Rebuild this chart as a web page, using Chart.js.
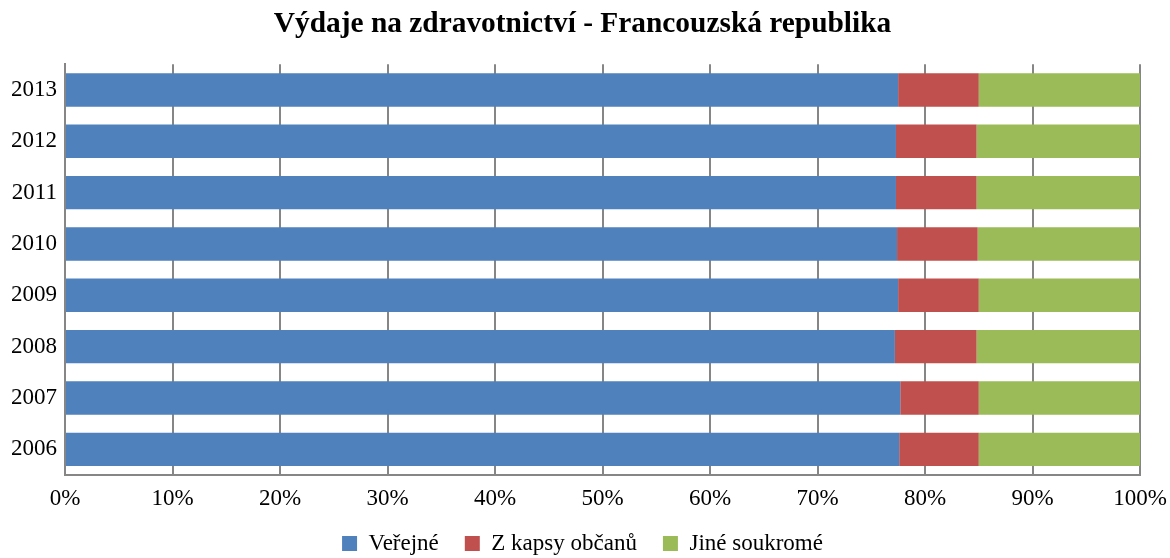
<!DOCTYPE html>
<html>
<head>
<meta charset="utf-8">
<script src="https://cdn.jsdelivr.net/npm/chart.js@4.4.1/dist/chart.umd.min.js"></script>
<style>
  html, body { margin: 0; padding: 0; background: #ffffff; }
  #wrap { width: 1170px; height: 558px; }
</style>
</head>
<body>
<div id="wrap"><canvas id="c" width="1170" height="558"></canvas></div>
<script>
const years = ['2013', '2012', '2011', '2010', '2009', '2008', '2007', '2006'];
const verejne = [77.5, 77.3, 77.3, 77.4, 77.5, 77.2, 77.7, 77.6];
const zKapsy = [7.5, 7.5, 7.5, 7.5, 7.5, 7.6, 7.3, 7.4];
const jineSoukrome = [15.0, 15.2, 15.2, 15.1, 15.0, 15.2, 15.0, 15.0];
const seriesNames = ['Veřejné', 'Z kapsy občanů', 'Jiné soukromé'];
const xTicks = [0, 10, 20, 30, 40, 50, 60, 70, 80, 90, 100];

const FONT = "'Liberation Serif', 'Times New Roman', serif";
const GRID = '#868686';

new Chart(document.getElementById('c'), {
  type: 'bar',
  data: {
    labels: years,
    datasets: [
      { label: seriesNames[0], data: verejne, backgroundColor: '#4F81BD' },
      { label: seriesNames[1], data: zKapsy, backgroundColor: '#C0504D' },
      { label: seriesNames[2], data: jineSoukrome, backgroundColor: '#9BBB59' }
    ]
  },
  options: {
    indexAxis: 'y',
    responsive: false,
    animation: false,
    devicePixelRatio: 1,
    layout: { padding: { left: 0, right: 5, top: 0, bottom: -7 } },
    datasets: { bar: { categoryPercentage: 1, barPercentage: 0.65, borderWidth: 0 } },
    scales: {
      x: {
        stacked: true,
        min: 0,
        max: 100,
        afterBuildTicks: (s) => { s.ticks = xTicks.map(v => ({ value: v })); },
        afterFit: (s) => { s.height = 31; s.paddingRight = 30; s.paddingLeft = 0; },
        grid: { color: GRID, lineWidth: 2, drawTicks: false },
        border: { color: GRID, width: 2 },
        ticks: {
          color: '#000',
          font: { family: FONT, size: 23 },
          padding: 10,
          maxRotation: 0,
          callback: (v) => v + '%'
        }
      },
      y: {
        stacked: true,
        afterFit: (s) => { s.width = 65; },
        grid: { display: false, drawTicks: false },
        border: { color: GRID, width: 2 },
        ticks: {
          color: '#000',
          font: { family: FONT, size: 23 },
          padding: 8
        }
      }
    },
    plugins: {
      title: {
        display: true,
        text: 'Výdaje na zdravotnictví - Francouzská republika',
        color: '#000',
        font: { family: FONT, size: 29.4, weight: 'bold' },
        padding: { top: 7, bottom: 22 }
      },
      legend: {
        position: 'bottom',
        labels: {
          color: '#000',
          font: { family: FONT, size: 23 },
          boxWidth: 15,
          boxHeight: 15,
          padding: 26
        }
      },
      tooltip: { enabled: false }
    }
  }
});
</script>
</body>
</html>
